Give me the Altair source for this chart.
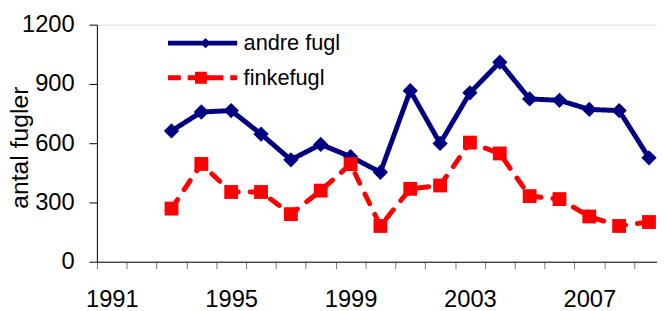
import altair as alt
import pandas as pd

# ---- data ----
years = list(range(1993, 2010))
andre_fugl = [662, 758, 765, 646, 516, 594, 532, 453, 866, 599, 855, 1010, 824, 817, 771, 765, 526]
finkefugl = [269, 495, 353, 353, 241, 360, 494, 181, 369, 386, 603, 548, 332, 317, 229, 181, 201]

axis_years = list(range(1991, 2010))
label_years = [1991, 1995, 1999, 2003, 2007]
y_ticks = [0, 300, 600, 900, 1200]
series_names = ["andre fugl", "finkefugl"]
series_colors = ["#000080", "#FF0000"]
series_shapes = ["diamond", "square"]
series_sizes = [240, 196]
series_dashes = [[1, 0], [11, 12]]

df = pd.DataFrame({
    "year": years * 2,
    "value": andre_fugl + finkefugl,
    "series": [series_names[0]] * len(years) + [series_names[1]] * len(years),
})

FONT = "Liberation Sans"

# legend symbols: line + marker drawn as one filled path (units of 17.5px)
legend_paths = [
    ("M-2,-0.143L2,-0.143L2,0.143L-2,0.143Z "
     "M0.17,-0.3L0.47,0L0.17,0.3L-0.13,0Z"),
    ("M-2,-0.143L-1.26,-0.143L-1.26,0.143L-2,0.143Z "
     "M-0.86,-0.143L1.2,-0.143L1.2,0.143L-0.86,0.143Z "
     "M1.6,-0.143L2,-0.143L2,0.143L1.6,0.143Z "
     "M-0.44,-0.343L0.246,-0.343L0.246,0.343L-0.44,0.343Z"),
]
legend_y = [1.2, 36.2]

label_list = ",".join(str(v) for v in label_years)

x_enc = alt.X(
    "year:O",
    scale=alt.Scale(type="band", domain=axis_years, range=[0, 574],
                    paddingInner=0, paddingOuter=0),
    axis=alt.Axis(
        title=None, tickBand="extent", tickSize=7, tickColor="#777777",
        domainColor="black", labelFontSize=24, labelFont=FONT,
        labelColor="black", labelPadding=19, labelAngle=0,
        labelOverlap=False, labelFlush=False, grid=False,
        labelExpr=f"indexof([{label_list}], datum.value) >= 0 ? datum.label : ''",
    ),
)
y_enc = alt.Y(
    "value:Q",
    scale=alt.Scale(domain=[0, 1200], nice=False),
    axis=alt.Axis(
        title="antal fugler", values=y_ticks, format="d", tickSize=8,
        tickColor="black", domainColor="black", labelFontSize=24,
        labelFont=FONT, labelColor="black", labelPadding=15, grid=False,
        titleFontSize=25, titleFont=FONT, titleFontWeight="normal",
        titleColor="black", titlePadding=-11, titleY=124,
    ),
)


def series_layer(i):
    name = series_names[i]
    base = alt.Chart(df).transform_filter(alt.datum.series == name).encode(x=x_enc, y=y_enc)
    line = base.mark_line(strokeWidth=5, strokeCap="round", strokeJoin="round",
                          color=series_colors[i], strokeDash=series_dashes[i])
    legend = alt.Legend(
        orient="none", legendX=89.5, legendY=legend_y[i], title=None,
        padding=0, rowPadding=0, symbolSize=1225, symbolStrokeWidth=0,
        symbolType=legend_paths[i], symbolFillColor=series_colors[i],
        symbolOpacity=1, symbolOffset=0, labelOffset=24, labelFontSize=22,
        labelFont=FONT, labelColor="black", labelLimit=300,
    )
    pts = base.mark_point(filled=True, opacity=1, shape=series_shapes[i],
                          size=series_sizes[i], strokeWidth=0).encode(
        color=alt.Color("series:N",
                        scale=alt.Scale(domain=[name], range=[series_colors[i]]),
                        legend=legend)
    )
    return alt.layer(line, pts)


chart = alt.layer(series_layer(0), series_layer(1)).resolve_scale(
    color="independent"
).resolve_legend(color="independent").properties(
    width=567, height=240,
    autosize=alt.AutoSizeParams(type="none"),
    padding={"left": 90, "top": 15, "right": 0, "bottom": 48},
).configure_view(strokeWidth=0).configure(background="white")

chart.save("out.html", embed_options={"renderer": "svg", "actions": False})
